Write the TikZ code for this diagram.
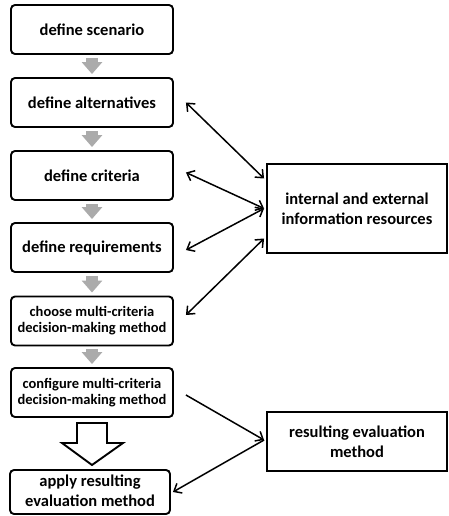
\documentclass[tikz,border=0pt]{standalone}
\usepackage{fontspec}
\setmainfont{Carlito}
\usetikzlibrary{arrows.meta}

\begin{document}
\begin{tikzpicture}[x=1pt,y=-1pt,
    stepbox/.style={draw,line width=1.9pt,rounded corners=4pt,minimum width=162pt,
      minimum height=49pt,inner sep=1pt,align=center,font=\bfseries\fontsize{16.5}{20}\selectfont},
    smallstep/.style={stepbox,font=\bfseries\fontsize{14.5}{16}\selectfont},
    sidebox/.style={draw,line width=1.9pt,minimum width=180pt,inner sep=1pt,align=center,
      font=\bfseries\fontsize{16.5}{20}\selectfont},
    grayarrow/.style={-{Triangle[width=20pt,length=12pt]},line width=12pt,color=black!33},
    link/.style={{Straight Barb[length=6.5pt,width=11pt]}-{Straight Barb[length=6.5pt,width=11pt]},line width=1.5pt},
    oneway/.style={-{Straight Barb[length=6.5pt,width=11pt]},line width=1.5pt}]
  \useasboundingbox (0,0) rectangle (449,516);

  % steps of the procedure
  \node[stepbox] (scen) at (92,29.5) {define scenario};
  \node[stepbox] (alt) at (92,102.5) {define alternatives};
  \node[stepbox] (crit) at (92,175.5) {define criteria};
  \node[stepbox] (req) at (92,247.5) {define requirements};
  \node[smallstep] (choose) at (92,321) {choose multi-criteria\\decision-making method};
  \node[smallstep] (conf) at (92,392.5) {configure multi-criteria\\decision-making method};
  \node[stepbox,minimum width=160pt,minimum height=44pt,text depth=3pt] (apply) at (90,492) {apply resulting\\evaluation method};

  % boxes on the right
  \node[sidebox,minimum height=89pt] (info) at (357,208.5) {internal and external\\information resources};
  \node[sidebox,minimum height=59pt] (result) at (357,441.5) {resulting evaluation\\method};

  % gray arrows between the steps
  \foreach \a/\b in {scen/alt,alt/crit,crit/req,req/choose,choose/conf}
    \draw[grayarrow] ([yshift=-3pt]\a.south) -- ([yshift=3pt]\b.north);

  % hollow arrow
  \draw[line width=1.9pt] (77,423) -- (107,423) -- (107,443) -- (123,443) -- (92,465)
    -- (62,443) -- (77,443) -- cycle;

  % links to the information resources
  \draw[link] ([xshift=12pt]alt.east) -- ([xshift=-2pt,yshift=30pt]info.west);
  \draw[link] ([xshift=12pt,yshift=3pt]crit.east) -- ([xshift=-2pt]info.west);
  \draw[link] ([xshift=12pt,yshift=-2.5pt]req.east) -- ([xshift=-2pt]info.west);
  \draw[link] ([xshift=12pt,yshift=6pt]choose.east) -- ([xshift=-2pt,yshift=-30pt]info.west);

  % resulting method
  \draw[oneway] ([xshift=12pt,yshift=-2.5pt]conf.east) -- ([xshift=-2pt,yshift=1.5pt]result.west);
  \draw[oneway] ([xshift=-2pt,yshift=1.5pt]result.west) -- ([xshift=2pt]apply.east);
\end{tikzpicture}
\end{document}
